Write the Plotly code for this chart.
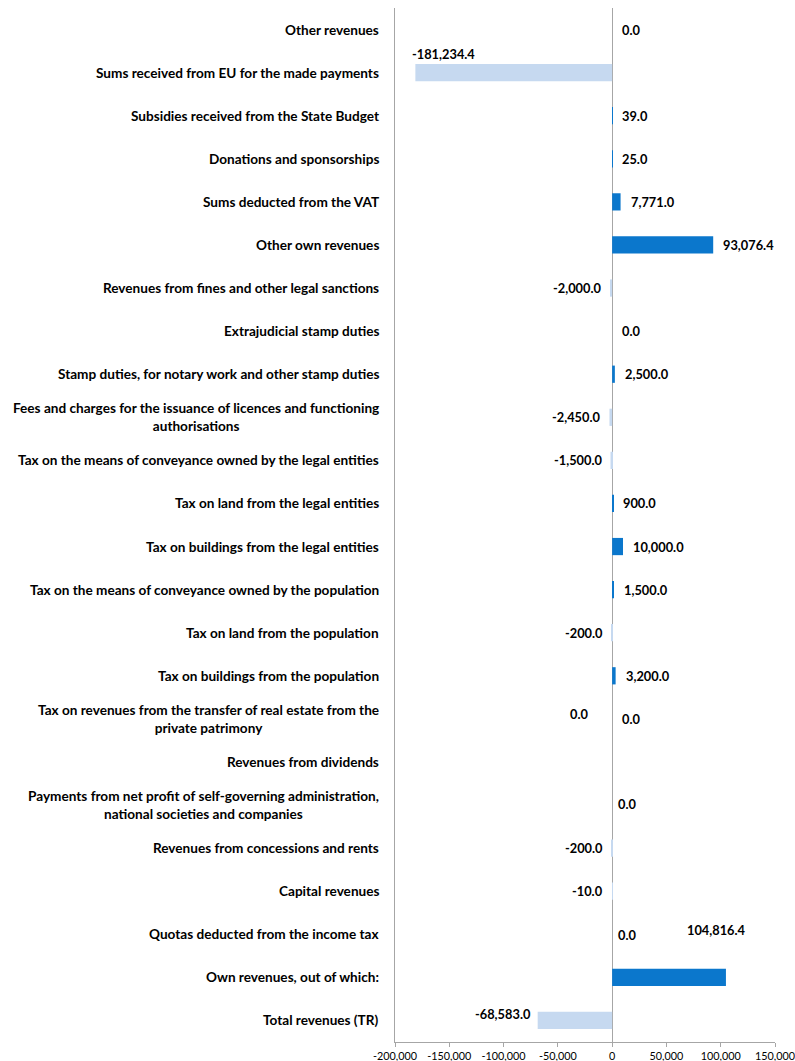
import plotly.graph_objects as go

categories = [
    "Other revenues",
    "Sums received from EU for the made payments",
    "Subsidies received from the State Budget",
    "Donations and sponsorships",
    "Sums deducted from the VAT",
    "Other own revenues",
    "Revenues from fines and other legal sanctions",
    "Extrajudicial stamp duties",
    "Stamp duties, for notary work and other stamp duties",
    "Fees and charges for the issuance of licences and functioning<br>authorisations",
    "Tax on the means of conveyance owned by the legal entities",
    "Tax on land from the legal entities",
    "Tax on buildings from the legal entities",
    "Tax on the means of conveyance owned by the population",
    "Tax on land from the population",
    "Tax on buildings from the population",
    "Tax on revenues from the transfer of real estate from the<br>private patrimony",
    "Revenues from dividends",
    "Payments from net profit of self-governing administration,<br>national societies and companies",
    "Revenues from concessions and rents",
    "Capital revenues",
    "Quotas deducted from the income tax",
    "Own revenues, out of which:",
    "Total revenues (TR)",
]

values = [0.0, -181234.4, 39.0, 25.0, 7771.0, 93076.4, -2000.0, 0.0, 2500.0,
          -2450.0, -1500.0, 900.0, 10000.0, 1500.0, -200.0, 3200.0, 0.0, 0.0,
          0.0, -200.0, -10.0, 0.0, 104816.4, -68583.0]

value_labels = ["0.0", "-181,234.4", "39.0", "25.0", "7,771.0", "93,076.4",
                "-2,000.0", "0.0", "2,500.0", "-2,450.0", "-1,500.0", "900.0",
                "10,000.0", "1,500.0", "-200.0", "3,200.0", "0.0", "0.0",
                "0.0", "-200.0", "-10.0", "0.0", "104,816.4", "-68,583.0"]

x_ticks = [-200000, -150000, -100000, -50000, 0, 50000, 100000, 150000]
x_tick_labels = ["-200,000", "-150,000", "-100,000", "-50,000", "0",
                 "50,000", "100,000", "150,000"]

DARK = "#0B77CC"
LIGHT = "#C6D9F0"
FONT = "Lato"

# styling offsets for manually positioned data labels (anchor, xshift, yshift)
label_offsets = {
    "Sums received from EU for the made payments": ("left", -5, 19),
    "Own revenues, out of which:": ("center", -9, 47),
    "Total revenues (TR)": ("right", -5, 6),
    "Revenues from dividends": ("right", -22, 48),
    "Payments from net profit of self-governing administration,<br>national societies and companies": ("left", 4, 1),
    "Quotas deducted from the income tax": ("left", 4, -1),
}

colors = [DARK if v > 0 else LIGHT for v in values]

fig = go.Figure()
fig.add_trace(go.Bar(
    x=values, y=categories, orientation="h",
    marker=dict(color=colors, line=dict(width=0)),
    width=0.4, hoverinfo="x+y",
))

annotations = []
for cat, v, t in zip(categories, values, value_labels):
    if cat in label_offsets:
        anchor, xs, ys = label_offsets[cat]
    elif v < 0:
        anchor, xs, ys = "right", -7, 0
    else:
        anchor, xs, ys = "left", 8, 0
    annotations.append(dict(
        x=v, y=cat, xref="x", yref="y", text=t, showarrow=False,
        xanchor=anchor, yanchor="middle", xshift=xs, yshift=ys,
        font=dict(family=FONT, size=12.8, color="#000000", weight="bold"),
    ))
    annotations.append(dict(
        x=0, y=cat, xref="paper", yref="y", text=cat, showarrow=False,
        xanchor="right", yanchor="middle", align="center", xshift=-14,
        font=dict(family=FONT, size=13.6, color="#000000", weight="bold"),
    ))

fig.update_layout(
    width=795, height=1061,
    margin=dict(l=395, r=20, t=8, b=19, autoexpand=False),
    paper_bgcolor="white", plot_bgcolor="white",
    showlegend=False,
    annotations=annotations,
    font=dict(family=FONT, color="#000000"),
    xaxis=dict(
        range=[-200000, 150000], tickvals=x_ticks, ticktext=x_tick_labels,
        ticks="outside", ticklen=4, tickcolor="#A6A6A6",
        showline=True, linecolor="#A6A6A6", linewidth=1,
        showgrid=False, zeroline=True, zerolinecolor="#A6A6A6", zerolinewidth=1,
        tickfont=dict(family=FONT, size=10.8, color="#000000"),
        ticklabeloverflow="allow",
        fixedrange=True, automargin=False,
    ),
    yaxis=dict(
        categoryorder="array", categoryarray=categories,
        autorange="reversed", showticklabels=False, ticks="",
        showline=True, linecolor="#A6A6A6", linewidth=1,
        showgrid=False, zeroline=False, fixedrange=True, automargin=False,
    ),
)

fig.write_html(
    "out.html",
    config={"displayModeBar": False},
    post_script="document.body.style.margin='0';document.documentElement.style.overflow='hidden';",
)
